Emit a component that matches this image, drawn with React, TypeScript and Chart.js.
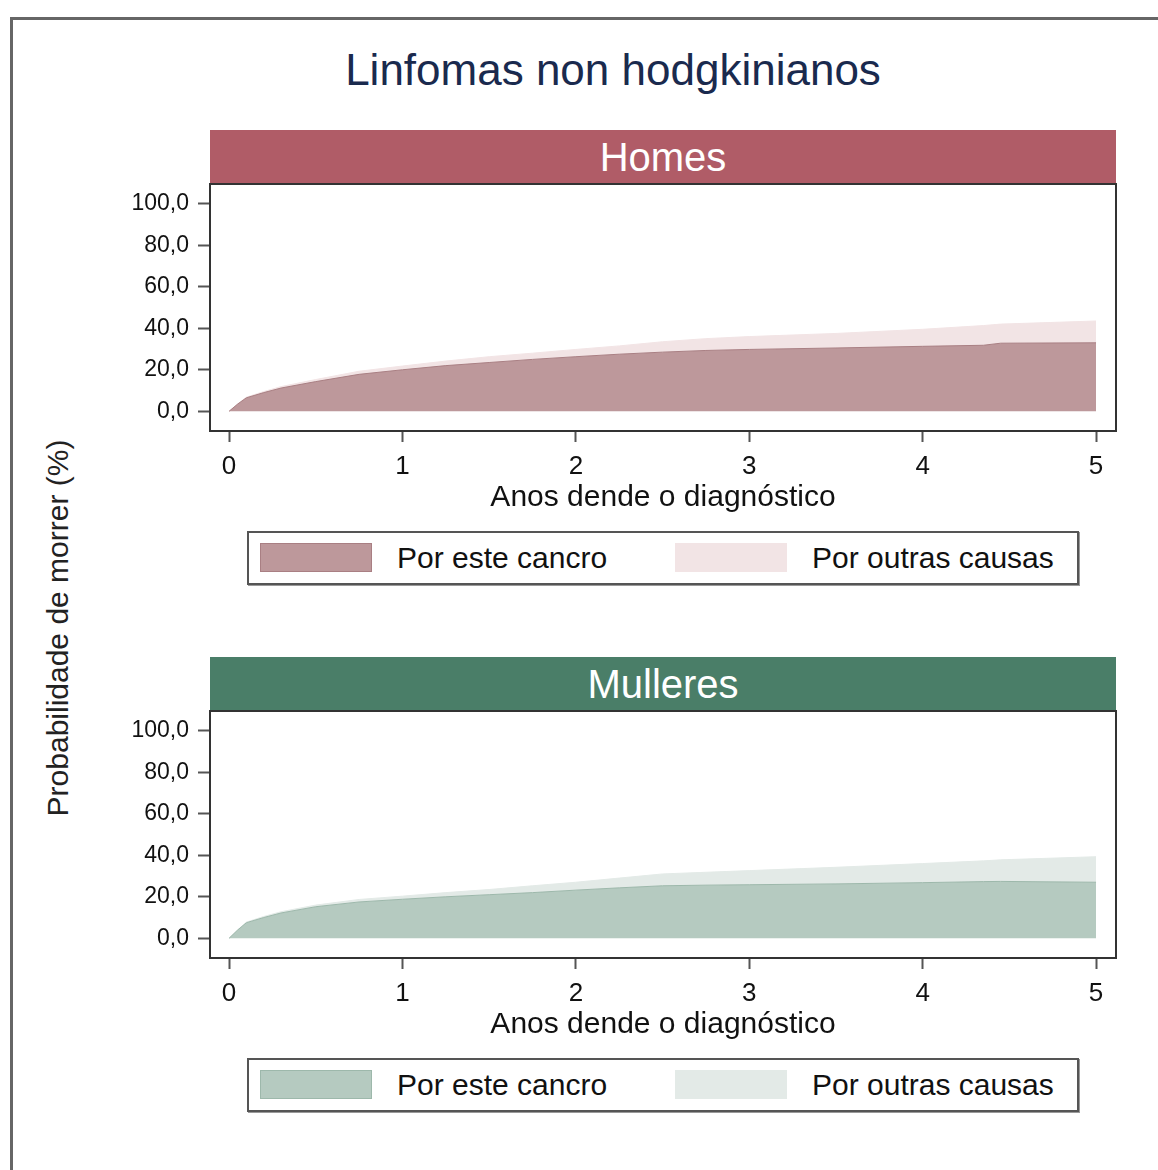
import React, { useEffect, useRef } from "react";
import { Chart, registerables } from "chart.js";

Chart.register(...registerables);

// ---- data ----
const years = [0, 0.05, 0.1, 0.2, 0.3, 0.5, 0.75, 1, 1.25, 1.5, 1.75, 2, 2.25, 2.5, 2.75, 3, 3.5, 4, 4.35, 4.45, 5];

const homesCancro = [0, 3.5, 6.5, 9, 11.2, 14.3, 17.8, 20, 22, 23.5, 25, 26.3, 27.5, 28.5, 29.3, 29.8, 30.5, 31.3, 31.8, 32.8, 33];
const homesTotal = [0, 3.6, 6.8, 9.5, 11.9, 15.3, 19.3, 21.8, 24.2, 26.3, 28, 29.8, 31.5, 33.5, 35, 36, 37.5, 39.5, 41.3, 42, 43.5];

const mulleresCancro = [0, 4, 7.5, 10, 12.2, 15.2, 17.5, 18.8, 20, 21, 22, 23.2, 24.3, 25.3, 25.6, 25.8, 26.2, 26.8, 27.3, 27.4, 27];
const mulleresTotal = [0, 4.1, 7.8, 10.5, 12.8, 16, 18.7, 20.3, 22, 23.5, 25.3, 27, 29, 31, 31.8, 32.6, 34.2, 36, 37.3, 37.8, 39.3];

const xTicks = [0, 1, 2, 3, 4, 5];
const yTicks = [0, 20, 40, 60, 80, 100];

const chartTitle = "Linfomas non hodgkinianos";
const panelTitles = ["Homes", "Mulleres"];
const legendLabels = ["Por este cancro", "Por outras causas"];
const xTitle = "Anos dende o diagnóstico";
const yTitle = "Probabilidade de morrer (%)";

const FONT = "'Liberation Sans', Arial, Helvetica, sans-serif";

const framePlugin = {
  id: "frame",
  afterDraw(chart: any) {
    const { ctx, chartArea: a } = chart;
    ctx.save();
    ctx.strokeStyle = "#333";
    ctx.lineWidth = 2;
    ctx.strokeRect(a.left, a.top, a.right - a.left, a.bottom - a.top);
    ctx.restore();
  },
};

type PanelProps = {
  offset: number;
  title: string;
  header: string;
  cancro: number[];
  total: number[];
  dark: string;
  darkEdge: string;
  light: string;
};

function Panel({ offset, title, header, cancro, total, dark, darkEdge, light }: PanelProps) {
  const ref = useRef<HTMLCanvasElement>(null);
  useEffect(() => {
    const chart = new Chart(ref.current as HTMLCanvasElement, {
      type: "line",
      data: {
        datasets: [
          {
            label: legendLabels[0],
            data: years.map((x, i) => ({ x, y: cancro[i] })),
            fill: "origin",
            backgroundColor: dark,
            borderColor: darkEdge,
            borderWidth: 1,
            pointRadius: 0,
            tension: 0,
          },
          {
            label: legendLabels[1],
            data: years.map((x, i) => ({ x, y: total[i] })),
            fill: "-1",
            backgroundColor: light,
            borderColor: light,
            borderWidth: 1,
            pointRadius: 0,
            tension: 0,
          },
        ],
      },
      options: {
        animation: false,
        responsive: false,
        maintainAspectRatio: false,
        layout: { padding: { left: 0, right: 14, top: 2, bottom: 0 } },
        plugins: {
          legend: { display: false },
          tooltip: { enabled: false },
          title: { display: false },
        },
        scales: {
          x: {
            type: "linear",
            min: -0.11,
            max: 5.115,
            afterBuildTicks: (s: any) => {
              s.ticks = xTicks.map((v) => ({ value: v }));
            },
            afterFit: (s: any) => {
              s.height = 85;
              s.paddingLeft = 0;
              s.paddingRight = 0;
            },
            grid: {
              drawOnChartArea: false,
              tickLength: 11,
              tickColor: "#555",
              tickWidth: 2,
            },
            border: { display: true, color: "#222", width: 2 },
            ticks: {
              padding: 9,
              color: "#111",
              font: { family: FONT, size: 26 },
              callback: (v: any) => String(v),
            },
            title: {
              display: true,
              text: xTitle,
              color: "#111",
              font: { family: FONT, size: 30 },
              padding: 0,
            },
          },
          y: {
            type: "linear",
            min: -9.5,
            max: 109.5,
            afterBuildTicks: (s: any) => {
              s.ticks = yTicks.map((v) => ({ value: v }));
            },
            afterFit: (s: any) => {
              s.width = 110;
              s.paddingTop = 0;
              s.paddingBottom = 0;
            },
            grid: {
              drawOnChartArea: false,
              tickLength: 12,
              tickColor: "#555",
              tickWidth: 2,
            },
            border: { display: true, color: "#222", width: 2 },
            ticks: {
              padding: 9,
              color: "#111",
              font: { family: FONT, size: 23 },
              callback: (v: any) => Number(v).toFixed(1).replace(".", ","),
            },
          },
        },
      } as any,
      plugins: [framePlugin],
    });
    return () => chart.destroy();
  }, []);

  return (
    <>
      <div
        style={{
          position: "absolute",
          left: 210,
          top: 130 + offset,
          width: 906,
          height: 54,
          background: header,
          color: "#fff",
          fontFamily: FONT,
          fontSize: 40,
          lineHeight: "54px",
          textAlign: "center",
        }}
      >
        {title}
      </div>
      <canvas
        ref={ref}
        width={1030}
        height={334}
        style={{ position: "absolute", left: 100, top: 182 + offset, width: 1030, height: 334 }}
      />
      <div
        style={{
          position: "absolute",
          left: 247,
          top: 531 + offset,
          width: 832,
          height: 54,
          boxSizing: "border-box",
          border: "2px solid #555",
          boxShadow: "1px 1px 0 #999",
          background: "#fff",
          fontFamily: FONT,
          fontSize: 30,
          color: "#111",
        }}
      >
        <div
          style={{
            position: "absolute",
            left: 11,
            top: 10,
            width: 112,
            height: 29,
            boxSizing: "border-box",
            background: dark,
            border: `1px solid ${darkEdge}`,
          }}
        />
        <div style={{ position: "absolute", left: 148, top: 0, lineHeight: "50px", whiteSpace: "nowrap" }}>
          {legendLabels[0]}
        </div>
        <div
          style={{
            position: "absolute",
            left: 426,
            top: 10,
            width: 112,
            height: 29,
            background: light,
          }}
        />
        <div style={{ position: "absolute", left: 563, top: 0, lineHeight: "50px", whiteSpace: "nowrap" }}>
          {legendLabels[1]}
        </div>
      </div>
    </>
  );
}

export default function App() {
  return (
    <div
      style={{
        position: "absolute",
        left: 0,
        top: 0,
        width: 1158,
        height: 1170,
        overflow: "hidden",
        background: "#fff",
      }}
    >
      <div
        style={{
          position: "absolute",
          left: 10,
          top: 17,
          width: 1300,
          height: 1300,
          border: "3px solid #666",
          boxSizing: "border-box",
        }}
      />
      <div
        style={{
          position: "absolute",
          left: 0,
          top: 44,
          width: 1226,
          textAlign: "center",
          fontFamily: FONT,
          fontSize: 44,
          lineHeight: "52px",
          color: "#1a2a4e",
        }}
      >
        {chartTitle}
      </div>
      <div
        style={{
          position: "absolute",
          left: 58,
          top: 628,
          transform: "translate(-50%, -50%) rotate(-90deg)",
          whiteSpace: "nowrap",
          fontFamily: FONT,
          fontSize: 30,
          color: "#222",
        }}
      >
        {yTitle}
      </div>
      <Panel
        offset={0}
        title={panelTitles[0]}
        header="#b05c67"
        cancro={homesCancro}
        total={homesTotal}
        dark="#bd989b"
        darkEdge="#a97f83"
        light="#f2e4e5"
      />
      <Panel
        offset={527}
        title={panelTitles[1]}
        header="#4a7e68"
        cancro={mulleresCancro}
        total={mulleresTotal}
        dark="#b5cac0"
        darkEdge="#9db8ab"
        light="#e3eae7"
      />
    </div>
  );
}
